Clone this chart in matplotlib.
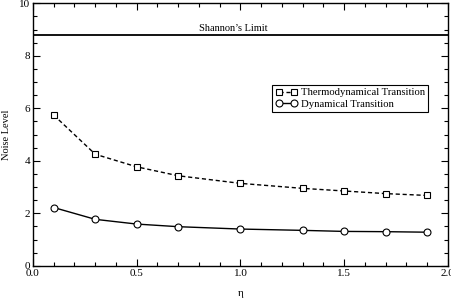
import matplotlib
matplotlib.use("Agg")
import matplotlib.pyplot as plt
import matplotlib.ticker as ticker

# ── Data ──────────────────────────────────────────────────────────────────────
eta = [0.1, 0.3, 0.5, 0.7, 1.0, 1.3, 1.5, 1.7, 1.9]
thermo = [5.74, 4.25, 3.77, 3.43, 3.14, 2.95, 2.85, 2.75, 2.68]
dynamic = [2.22, 1.77, 1.59, 1.49, 1.40, 1.35, 1.31, 1.30, 1.28]
shannon_limit = 8.81

plt.rcParams.update({
    "font.family": ["Liberation Serif", "DejaVu Serif"],
    "font.size": 7.5,
    "xtick.direction": "in",
    "ytick.direction": "in",
    "xtick.top": True,
    "ytick.right": True,
})

fig = plt.figure(figsize=(4.52, 3.0), dpi=100)
ax = fig.add_axes([0.073, 0.114, 0.918, 0.875])

ax.axhline(shannon_limit, color="black", linewidth=1.3)
ax.text(0.965, shannon_limit + 0.06, "Shannon\u2019s Limit", ha="center", va="bottom", fontsize=7.5)

ax.plot(eta, thermo, color="black", linestyle="--", linewidth=1.0, dashes=(3, 2),
        marker="s", markersize=4, markerfacecolor="white", markeredgewidth=0.8,
        label="Thermodynamical Transition")
ax.plot(eta, dynamic, color="black", linestyle="-", linewidth=1.0,
        marker="o", markersize=5, markerfacecolor="white", markeredgewidth=0.8,
        label="Dynamical Transition")

ax.set_xlim(0, 2)
ax.set_ylim(0, 10)
ax.xaxis.set_major_locator(ticker.MultipleLocator(0.5))
ax.xaxis.set_minor_locator(ticker.MultipleLocator(0.1))
ax.yaxis.set_major_locator(ticker.MultipleLocator(2))
ax.yaxis.set_minor_locator(ticker.MultipleLocator(0.5))
ax.xaxis.set_major_formatter(ticker.FormatStrFormatter("%.1f"))
ax.tick_params(which="major", length=5, width=0.8, labelsize=8, pad=2)
ax.tick_params(which="minor", length=3, width=0.8)
for s in ax.spines.values():
    s.set_linewidth(1.0)

ax.set_xlabel("\u03b7", fontsize=8, labelpad=8)
ax.set_ylabel("Noise Level", fontsize=7.5, labelpad=6)

leg = ax.legend(loc="upper left", bbox_to_anchor=(0.577, 0.69), numpoints=2,
                handlelength=2.0, handletextpad=0.35, borderpad=0.3, labelspacing=0.2,
                borderaxespad=0.0, fontsize=7.7, fancybox=False, framealpha=1,
                edgecolor="black")
leg.get_frame().set_linewidth(0.8)

fig.savefig("out.png", dpi=100)
